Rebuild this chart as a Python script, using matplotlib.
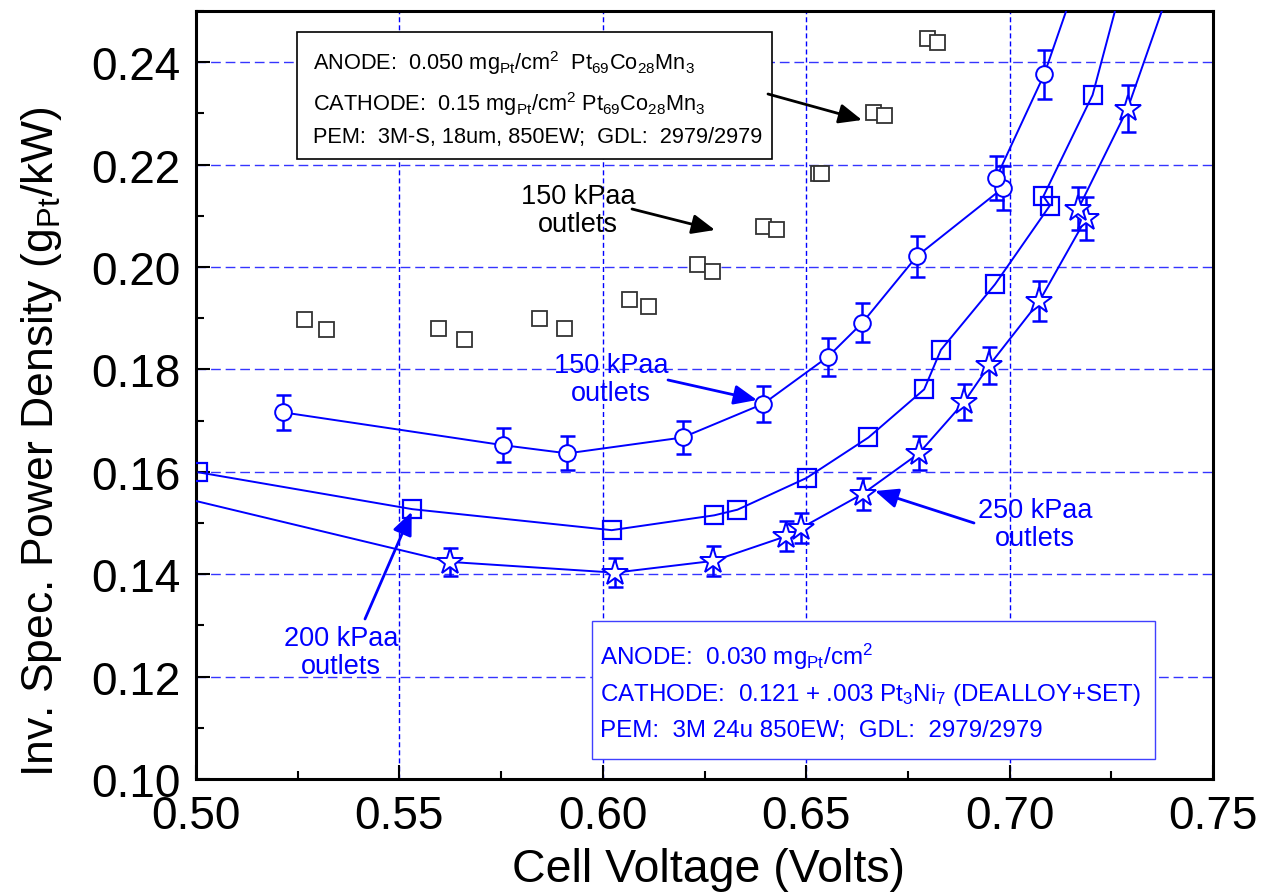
import matplotlib
matplotlib.use('Agg')
import matplotlib.pyplot as plt
from matplotlib.patches import Rectangle
from matplotlib.ticker import MultipleLocator, FormatStrFormatter

plt.rcParams['font.family'] = ['Liberation Sans', 'DejaVu Sans']
plt.rcParams['mathtext.fontset'] = 'custom'
plt.rcParams['mathtext.rm'] = 'Liberation Sans'
plt.rcParams['mathtext.it'] = 'Liberation Sans:italic'
plt.rcParams['mathtext.bf'] = 'Liberation Sans:bold'

# ---------------- data ----------------
# 150 kPaa outlets (blue circles, with error bars)
v_150 = [0.5215, 0.5755, 0.5913, 0.6196, 0.6395, 0.6554, 0.6638, 0.6772,
         0.6983, 0.6967, 0.7085, 0.7200]
p_150 = [0.1716, 0.1652, 0.1636, 0.1667, 0.1733, 0.1825, 0.1891, 0.2021,
         0.2154, 0.2174, 0.2376, 0.2640]
e_150 = [0.0034, 0.0033, 0.0033, 0.0033, 0.0035, 0.0037, 0.0038, 0.0040,
         0.0043, 0.0043, 0.0047, 0.0]

# 200 kPaa outlets (blue squares)
v_200 = [0.5006, 0.5532, 0.6022, 0.6274, 0.6331, 0.6501, 0.6653, 0.6790,
         0.6831, 0.6964, 0.7099, 0.7083, 0.7204, 0.7300]
p_200 = [0.1599, 0.1527, 0.1486, 0.1515, 0.1526, 0.1588, 0.1667, 0.1761,
         0.1838, 0.1966, 0.2120, 0.2138, 0.2336, 0.2622]

# 250 kPaa outlets (blue stars, with error bars)
v_250 = [0.4900, 0.5624, 0.6030, 0.6272, 0.6450, 0.6487, 0.6639, 0.6777,
         0.6888, 0.6950, 0.7073, 0.7188, 0.7169, 0.7290, 0.7420]
p_250 = [0.1562, 0.1424, 0.1403, 0.1426, 0.1474, 0.1490, 0.1557, 0.1636,
         0.1736, 0.1808, 0.1933, 0.2095, 0.2114, 0.2309, 0.2604]
e_250 = [0.0, 0.0028, 0.0028, 0.0029, 0.0029, 0.0030, 0.0031, 0.0033,
         0.0035, 0.0036, 0.0039, 0.0042, 0.0042, 0.0046, 0.0]

# reference: 150 kPaa outlets, PtCoMn cell (black open squares)
v_ref = [0.5266, 0.5320, 0.5594, 0.5660, 0.5844, 0.5905, 0.6065, 0.6112,
         0.6231, 0.6268, 0.6393, 0.6425, 0.6530, 0.6536, 0.6665, 0.6692,
         0.6796, 0.6822]
p_ref = [0.1898, 0.1879, 0.1881, 0.1859, 0.1900, 0.1881, 0.1938, 0.1924,
         0.2006, 0.1993, 0.2081, 0.2074, 0.2184, 0.2184, 0.2303, 0.2296,
         0.2448, 0.2440]

x_ticks = [0.50, 0.55, 0.60, 0.65, 0.70, 0.75]
y_ticks = [0.10, 0.12, 0.14, 0.16, 0.18, 0.20, 0.22, 0.24]

BLUE = '#0000ff'

# ---------------- figure ----------------
W, H = 1262, 895
fig = plt.figure(figsize=(W / 100, H / 100), dpi=100)
ax = fig.add_axes([196 / W, 1 - 780 / H, 1017 / W, 768 / H])

ax.set_xlim(0.50, 0.75)
ax.set_ylim(0.10, 0.25)
ax.set_xticks(x_ticks)
ax.set_yticks(y_ticks)
ax.xaxis.set_major_formatter(FormatStrFormatter('%.2f'))
ax.yaxis.set_major_formatter(FormatStrFormatter('%.2f'))
ax.xaxis.set_minor_locator(MultipleLocator(0.025))
ax.yaxis.set_minor_locator(MultipleLocator(0.01))
ax.tick_params(which='both', direction='in', top=False, right=False, width=1.5)
ax.tick_params(which='major', length=10, labelsize=33, pad=11)
ax.tick_params(which='minor', length=6)
for s in ax.spines.values():
    s.set_linewidth(2.2)

ax.set_axisbelow(True)
ax.xaxis.grid(True, which='major', color=BLUE, lw=1.0, ls=(0, (3.6, 2.2)))
ax.yaxis.grid(True, which='major', color='#3535ff', lw=1.0, ls=(0, (7, 3.5)))

# reference black squares
ax.plot(v_ref, p_ref, ls='none', marker='s', ms=10.8, mfc='white',
        mec='#333333', mew=1.3, zorder=3)

# error bars
ax.errorbar(v_150, p_150, yerr=e_150, fmt='none', ecolor=BLUE, elinewidth=1.8,
            capsize=5.4, capthick=1.8, zorder=3)
ax.errorbar(v_250, p_250, yerr=e_250, fmt='none', ecolor=BLUE, elinewidth=1.8,
            capsize=5.4, capthick=1.8, zorder=3)

# data lines with markers
ax.plot(v_150, p_150, color=BLUE, lw=1.4, marker='o', ms=12, mfc='white',
        mec=BLUE, mew=1.4, zorder=4)
ax.plot(v_200, p_200, color=BLUE, lw=1.4, marker='s', ms=13.3, mfc='none',
        mec=BLUE, mew=1.6, zorder=4)
ax.plot(v_250, p_250, color=BLUE, lw=1.4, marker='*', ms=19.5, mfc='white',
        mec=BLUE, mew=1.4, zorder=4)

# ---------------- annotation boxes ----------------
def fx(px):
    return (px - 196) / 1017

def fy(py):
    return (780 - py) / 768

T = ax.transAxes
ax.add_patch(Rectangle((fx(297), fy(160)), fx(772) - fx(297), fy(33) - fy(160),
                       transform=T, fc='white', ec='black', lw=1.2, zorder=5))
box1 = [r'ANODE:  0.050 mg$_{\mathrm{Pt}}$/cm$^{2}$  Pt$_{69}$Co$_{28}$Mn$_{3}$',
        r'CATHODE:  0.15 mg$_{\mathrm{Pt}}$/cm$^{2}$ Pt$_{69}$Co$_{28}$Mn$_{3}$',
        'PEM:  3M-S, 18um, 850EW;  GDL:  2979/2979']
for txt, by in zip(box1, [70, 111, 143]):
    ax.text(fx(313), fy(by), txt, transform=T, fontsize=15.7, color='black',
            ha='left', va='baseline', zorder=6)

ax.add_patch(Rectangle((fx(592), fy(760)), fx(1155) - fx(592), fy(622) - fy(760),
                       transform=T, fc='white', ec='#4040ff', lw=1.0, zorder=5))
box2 = [r'ANODE:  0.030 mg$_{\mathrm{Pt}}$/cm$^{2}$',
        r'CATHODE:  0.121 + .003 Pt$_{3}$Ni$_{7}$ (DEALLOY+SET)',
        'PEM:  3M 24u 850EW;  GDL:  2979/2979']
for txt, by in zip(box2, [665, 701, 737]):
    ax.text(fx(600), fy(by), txt, transform=T, fontsize=17.4, color=BLUE,
            ha='left', va='baseline', zorder=6)

# ---------------- labels with arrows ----------------
def arrow(p0, p1, color):
    ax.annotate('', xy=(fx(p1[0]), fy(p1[1])), xytext=(fx(p0[0]), fy(p0[1])),
                xycoords=T, textcoords=T,
                arrowprops=dict(arrowstyle='-|>,head_length=0.7,head_width=0.3',
                                mutation_scale=20, lw=2.0, color=color,
                                shrinkA=0, shrinkB=0), zorder=7)

arrow((768, 95), (862, 121), 'black')
ax.text(fx(578), fy(211), '150 kPaa\noutlets', transform=T, fontsize=19.5,
        color='black', ha='center', va='center', linespacing=1.1, zorder=6)
arrow((632, 210), (715, 231), 'black')

ax.text(fx(611), fy(380), '150 kPaa\noutlets', transform=T, fontsize=19.5,
        color=BLUE, ha='center', va='center', linespacing=1.1, zorder=6)
arrow((668, 381), (757, 401), BLUE)

ax.text(fx(1035), fy(525), '250 kPaa\noutlets', transform=T, fontsize=19.5,
        color=BLUE, ha='center', va='center', linespacing=1.1, zorder=6)
arrow((974, 524), (875, 492), BLUE)

ax.text(fx(341), fy(653), '200 kPaa\noutlets', transform=T, fontsize=19.5,
        color=BLUE, ha='center', va='center', linespacing=1.1, zorder=6)
arrow((365, 620), (411.7, 512.7), BLUE)

# axis titles
fig.text(708 / W, 1 - 882 / H, 'Cell Voltage (Volts)', fontsize=33.5,
         ha='center', va='baseline')
fig.text(42 / W, 1 - 442 / H, r'Inv. Spec. Power Density (g$_{\mathrm{Pt}}$/kW)',
         fontsize=32, rotation=90, ha='center', va='center')

fig.savefig('out.png', dpi=100)
